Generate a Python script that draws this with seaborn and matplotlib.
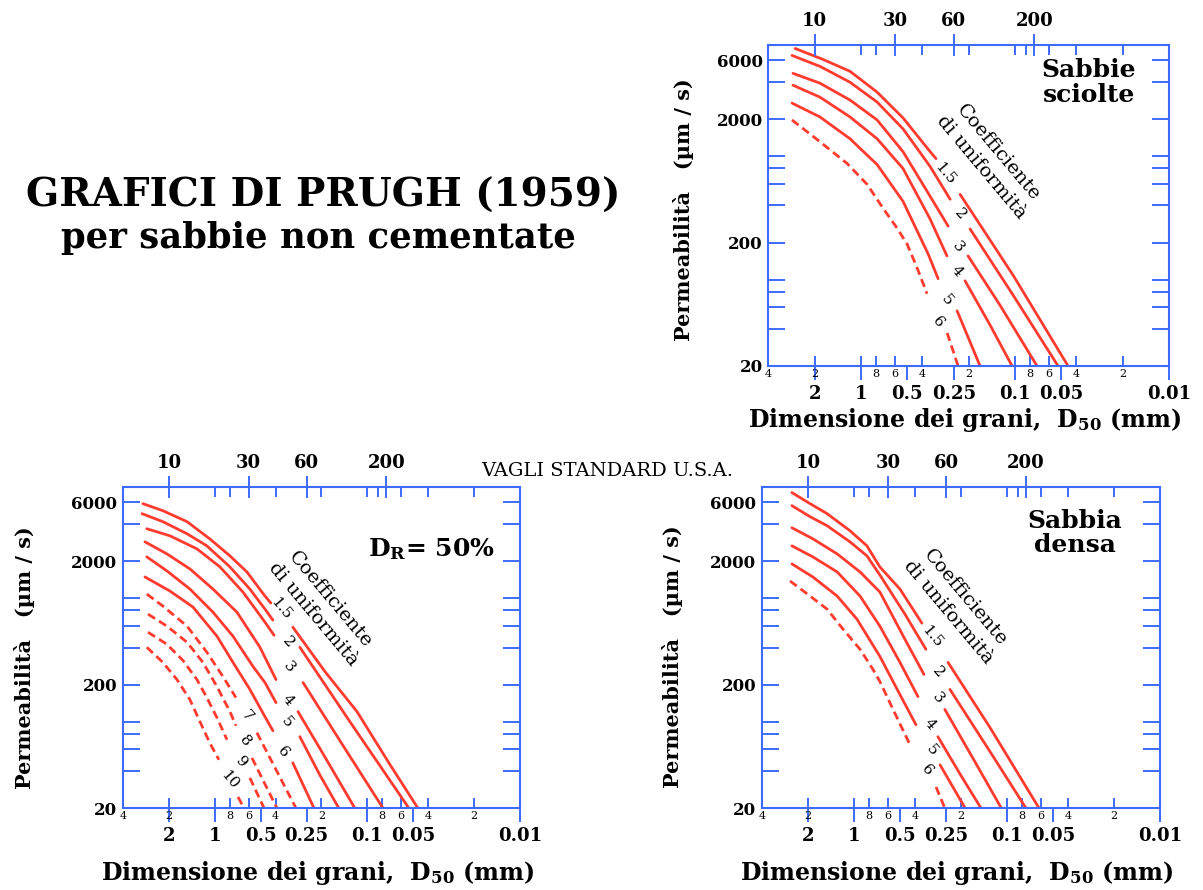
import matplotlib
matplotlib.use("Agg")
import matplotlib.pyplot as plt
import pandas as pd
import seaborn as sns
from matplotlib.ticker import NullFormatter

sns.set_style("white")
plt.rcParams['font.family'] = ['DejaVu Serif']
plt.rcParams['mathtext.default'] = 'regular'
plt.rcParams['text.color'] = 'black'
plt.rcParams['axes.labelcolor'] = 'black'
plt.rcParams['xtick.color'] = 'black'
plt.rcParams['ytick.color'] = 'black'

# ---------------- axis ticks ----------------
x_major = [2, 1, 0.5, 0.25, 0.1, 0.05, 0.01]
x_major_labels = ['2', '1', '0.5', '0.25', '0.1', '0.05', '0.01']
x_minor = [4, 2, 1, 0.8, 0.6, 0.4, 0.2, 0.1, 0.08, 0.06, 0.04, 0.02]
x_minor_labels = ['4', '2', '', '8', '6', '4', '2', '', '8', '6', '4', '2']
sieve_mm = [2.0, 0.6, 0.25, 0.075]
sieve_labels = ['10', '30', '60', '200']
sieve_minor_mm = [1, 0.8, 0.4, 0.2, 0.1, 0.085, 0.06, 0.04, 0.02]
y_major = [20, 200, 2000, 6000]
y_major_labels = ['20', '200', '2000', '6000']
y_minor = [40, 60, 80, 100, 400, 600, 800, 1000, 4000]

# ---------------- Sabbie sciolte (top right) ----------------
sciolte_cu = ['1.5', '2', '3', '4', '5', '6']
sciolte_d50 = [
    [2.68, 1.77, 1.18, 0.787, 0.534, 0.356, 0.326, 0.2275, 0.1026, 0.0453],
    [2.81, 1.85, 1.18, 0.787, 0.534, 0.356, 0.264, 0.196, 0.1026, 0.0526],
    [2.77, 1.85, 1.18, 0.787, 0.534, 0.356, 0.272, 0.202, 0.125, 0.072],
    [2.77, 1.85, 1.18, 0.787, 0.534, 0.356, 0.277, 0.2113, 0.145, 0.1046],
    [2.81, 1.85, 1.18, 0.787, 0.534, 0.367, 0.316, 0.238, 0.1688],
    [2.81, 1.85, 1.23, 0.914, 0.72, 0.584, 0.503, 0.433, 0.373, 0.276, 0.2345],
]
sciolte_k = [
    [7490, 6110, 4890, 3316, 2049, 1091, 959, 492, 108, 20],
    [6580, 5365, 3990, 2755, 1671, 827, 449, 258, 74.5, 20],
    [4710, 3920, 2860, 1974, 1091, 474, 272, 156, 61.9, 20],
    [3775, 3020, 2087, 1389, 797, 310, 156, 98, 42.7, 20],
    [2704, 2087, 1389, 858, 432, 162, 102, 56, 20],
    [1974, 1314, 874, 593, 380, 262, 195, 125, 77, 37, 20],
]
sciolte_break = [7, 7, 7, 7, 7, 9]
sciolte_dashed = [False, False, False, False, False, True]
sciolte_lab_d50 = [0.285, 0.2275, 0.2345, 0.238, 0.276, 0.316]
sciolte_lab_k = [726, 340, 185, 118, 67.9, 45.2]

# ---------------- D_R = 50% (bottom left) ----------------
medio_cu = ['1.5', '2', '3', '4', '5', '6', '7', '8', '9', '10']
medio_d50 = [
    [2.96, 2.19, 1.52, 1.08, 0.796, 0.616, 0.469, 0.429, 0.308, 0.19, 0.117, 0.0711, 0.0467],
    [3.00, 2.19, 1.52, 1.127, 0.796, 0.589, 0.469, 0.416, 0.277, 0.130, 0.0535],
    [2.79, 1.97, 1.31, 0.925, 0.654, 0.469, 0.409, 0.264, 0.151, 0.0791],
    [2.87, 2.06, 1.455, 1.028, 0.716, 0.506, 0.397, 0.285, 0.190, 0.121],
    [2.79, 2.06, 1.455, 1.028, 0.760, 0.562, 0.469, 0.397, 0.277, 0.205, 0.154],
    [2.87, 1.97, 1.39, 0.968, 0.760, 0.589, 0.469, 0.416, 0.308, 0.224],
    [2.79, 2.19, 1.52, 1.127, 0.885, 0.727, 0.530, 0.294],
    [2.74, 2.06, 1.52, 1.196, 0.968, 0.796, 0.727, 0.571, 0.392],
    [2.74, 2.06, 1.62, 1.31, 1.127, 0.968, 0.832, 0.589, 0.476],
    [2.79, 2.19, 1.77, 1.455, 1.25, 1.08, 0.94, 0.705, 0.644],
]
medio_k = [
    [5865, 5140, 4190, 3043, 2213, 1640, 1045, 917, 585, 256, 121, 45, 20],
    [4864, 4190, 3342, 2668, 1800, 1191, 819, 667, 402, 100, 20],
    [3671, 3219, 2523, 1800, 1127, 642, 503, 208, 70, 20],
    [2877, 2296, 1734, 1191, 774, 402, 220, 121, 52, 20],
    [2173, 1671, 1191, 774, 494, 281, 208, 143, 75.7, 37.1, 20],
    [1493, 1148, 851, 494, 303, 183, 110, 84.7, 46.5, 20],
    [1085, 867, 596, 366, 233, 157, 81.6, 20],
    [746, 596, 441, 303, 193, 121, 93, 51, 20],
    [532, 425, 315, 220, 157, 108, 71.6, 35.1, 20],
    [402, 303, 220, 151, 100, 67.6, 49.2, 24.6, 20],
]
medio_break = [8, 8, 7, 7, 8, 8, 6, 7, 7, 7]
medio_dashed = [False] * 6 + [True] * 4
medio_lab_d50 = [0.369, 0.332, 0.327, 0.332, 0.337, 0.358, 0.616, 0.635, 0.675, 0.807]
medio_lab_k = [819, 441, 276, 151, 98.5, 57.2, 112, 70.3, 47.4, 33.8]

# ---------------- Sabbia densa (bottom right) ----------------
densa_cu = ['1.5', '2', '3', '4', '5', '6']
densa_d50 = [
    [2.55, 1.94, 1.50, 1.064, 0.824, 0.678, 0.501, 0.360, 0.243, 0.129, 0.0618],
    [2.55, 1.94, 1.50, 1.064, 0.824, 0.678, 0.465, 0.339, 0.236, 0.129, 0.0752],
    [2.55, 1.86, 1.29, 0.914, 0.678, 0.465, 0.349, 0.255, 0.162, 0.109],
    [2.55, 1.86, 1.29, 0.914, 0.678, 0.501, 0.382, 0.283, 0.203, 0.148],
    [2.55, 1.86, 1.29, 0.957, 0.678, 0.501, 0.394, 0.274, 0.188],
    [2.62, 1.94, 1.50, 1.18, 0.914, 0.752, 0.678, 0.524, 0.431, 0.291, 0.255],
]
densa_k = [
    [7210, 5865, 4864, 3540, 2668, 1800, 1191, 630, 303, 89.6, 20],
    [5650, 4600, 3882, 2877, 2213, 1549, 746, 387, 183, 57.2, 20],
    [3740, 3043, 2296, 1640, 1127, 467, 242, 126, 47.4, 20],
    [2668, 2173, 1640, 1045, 596, 303, 160, 75.7, 37.8, 20],
    [1905, 1493, 1045, 679, 339, 166, 94.8, 44.8, 20],
    [1384, 1045, 819, 563, 387, 266, 212, 108, 65.2, 29.6, 20],
]
densa_break = [8, 8, 7, 7, 7, 9]
densa_dashed = [False, False, False, False, False, True]
densa_lab_d50 = [0.310, 0.283, 0.283, 0.319, 0.310, 0.333]
densa_lab_k = [494, 251, 157, 94.8, 59.3, 40.8]

# ---------------- styling ----------------
RED = '#ff3b2f'
BLUE = '#3d6bff'
DASH = (0, (3.0, 1.7))


def draw_panel(ax, d50s, ks, breaks, dashed, cus, lab_x, lab_y,
               ylab_pos, xlab_y, coef_pos):
    ax.set_xscale('log')
    ax.set_yscale('log')
    for xs, ys, b, dsh in zip(d50s, ks, breaks, dashed):
        for seg in (slice(0, b), slice(b, None)):
            df = pd.DataFrame({'d50': xs[seg], 'k': ys[seg]})
            sns.lineplot(data=df, x='d50', y='k', ax=ax, sort=False,
                         estimator=None, color=RED, lw=2.0,
                         linestyle=DASH if dsh else '-')
    ax.set_xlim(4, 0.01)
    ax.set_ylim(20, 8000)
    ax.set_xlabel('')
    ax.set_ylabel('')

    # curve labels
    for lx, ly, t in zip(lab_x, lab_y, cus):
        ax.text(lx, ly, t, rotation=-50, ha='center', va='center',
                rotation_mode='anchor', fontsize=11, color='black')

    # y axis
    ax.set_yticks(y_major, labels=y_major_labels, fontsize=12, fontweight='bold')
    ax.set_yticks(y_minor, minor=True)
    ax.yaxis.set_minor_formatter(NullFormatter())
    ax.tick_params(axis='y', which='both', direction='in', left=True, right=True,
                   length=12, width=1.4, color=BLUE, labelcolor='black', pad=4)

    # bottom x axis
    ax.xaxis.remove_overlapping_locs = False
    ax.set_xticks(x_major, labels=x_major_labels, fontsize=13, fontweight='bold')
    ax.set_xticks(x_minor, labels=x_minor_labels, minor=True, fontsize=8)
    ax.tick_params(axis='x', which='major', direction='out', length=10,
                   width=1.4, color=BLUE, labelcolor='black', pad=4)
    ax.tick_params(axis='x', which='minor', direction='in', length=7,
                   width=1.4, color=BLUE, labelcolor='black', pad=2)

    for s in ax.spines.values():
        s.set_color(BLUE)
        s.set_linewidth(1.5)

    # top axis: U.S. standard sieves
    tax = ax.twiny()
    tax.set_xscale('log')
    tax.set_xlim(4, 0.01)
    tax.set_xticks(sieve_mm, labels=sieve_labels, fontsize=13, fontweight='bold')
    tax.set_xticks(sieve_minor_mm, minor=True)
    tax.xaxis.set_minor_formatter(NullFormatter())
    tax.tick_params(axis='x', which='major', direction='inout', length=16,
                    width=1.4, color=BLUE, labelcolor='black', pad=3,
                    top=True, bottom=False)
    tax.tick_params(axis='x', which='minor', direction='in', length=7,
                    width=1.4, color=BLUE, top=True, bottom=False)
    for s in tax.spines.values():
        s.set_visible(False)

    # axis titles
    ax.text(ylab_pos[0], ylab_pos[1], 'Permeabilità   (µm / s)', rotation=90,
            ha='center', va='center', transform=ax.transAxes,
            fontsize=15, fontweight='bold', color='black')
    ax.text(0.49, xlab_y, 'Dimensione dei grani,  D$_{50}$ (mm)',
            ha='center', va='center', transform=ax.transAxes,
            fontsize=17, fontweight='bold', color='black')
    ax.text(coef_pos[0], coef_pos[1], 'Coefficiente\ndi uniformità',
            rotation=-50, rotation_mode='anchor', ha='center', va='center',
            multialignment='center', linespacing=1.3,
            transform=ax.transAxes, fontsize=14, color='black')


fig = plt.figure(figsize=(12.03, 8.90), dpi=100)
ax_tr = fig.add_axes([0.6387, 0.5888, 0.3331, 0.3607])
ax_bl = fig.add_axes([0.1022, 0.0921, 0.3300, 0.3607])
ax_br = fig.add_axes([0.6334, 0.0921, 0.3308, 0.3607])

draw_panel(ax_tr, sciolte_d50, sciolte_k, sciolte_break, sciolte_dashed,
           sciolte_cu, sciolte_lab_d50, sciolte_lab_k,
           (-0.213, 0.486), -0.168, (0.553, 0.642))
draw_panel(ax_bl, medio_d50, medio_k, medio_break, medio_dashed,
           medio_cu, medio_lab_d50, medio_lab_k,
           (-0.247, 0.47), -0.202, (0.50, 0.627))
draw_panel(ax_br, densa_d50, densa_k, densa_break, densa_dashed,
           densa_cu, densa_lab_d50, densa_lab_k,
           (-0.224, 0.473), -0.202, (0.49, 0.632))

ax_tr.text(0.80, 0.882, 'Sabbie\nsciolte', transform=ax_tr.transAxes,
           ha='center', va='center', fontsize=18, fontweight='bold',
           linespacing=1.05, color='black')
ax_br.text(0.786, 0.857, 'Sabbia\ndensa', transform=ax_br.transAxes,
           ha='center', va='center', fontsize=18, fontweight='bold',
           linespacing=1.0, color='black')
ax_bl.text(0.776, 0.807, 'D$_{R}$= 50%', transform=ax_bl.transAxes,
           ha='center', va='center', fontsize=18, fontweight='bold', color='black')

fig.text(323 / 1203, 1 - 196 / 890, 'GRAFICI DI PRUGH (1959)', ha='center',
         va='center', fontsize=28, fontweight='bold', color='black')
fig.text(318 / 1203, 1 - 238 / 890, 'per sabbie non cementate', ha='center',
         va='center', fontsize=25.5, fontweight='bold', color='black')
fig.text(607 / 1203, 1 - 471 / 890, 'VAGLI STANDARD U.S.A.', ha='center',
         va='center', fontsize=14, color='black')

fig.savefig('out.png', dpi=100)
